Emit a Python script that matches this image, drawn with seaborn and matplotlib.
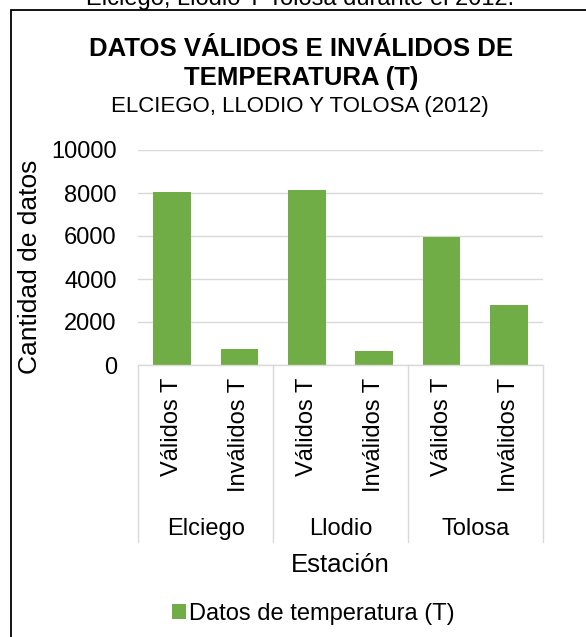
import pandas as pd
import matplotlib.pyplot as plt
import matplotlib.transforms as mtransforms
from matplotlib.patches import Patch, Rectangle
import seaborn as sns

# Datos
estaciones = ['Elciego', 'Llodio', 'Tolosa']
tipos = ['Válidos T', 'Inválidos T']
validos = [8030, 8120, 5950]
invalidos = [730, 640, 2780]

rows = []
for est, v, inv in zip(estaciones, validos, invalidos):
    rows.append({'clave': est + ' ' + tipos[0], 'tipo': tipos[0], 'cantidad': v})
    rows.append({'clave': est + ' ' + tipos[1], 'tipo': tipos[1], 'cantidad': inv})
df = pd.DataFrame(rows)

sns.set_theme(style='white')
plt.rcParams['font.family'] = ['Liberation Sans', 'DejaVu Sans']
plt.rcParams['text.color'] = 'black'
plt.rcParams['axes.labelcolor'] = 'black'
plt.rcParams['xtick.color'] = 'black'
plt.rcParams['ytick.color'] = 'black'

verde = '#70AD47'
gris = '#d9d9d9'
W, H = 586, 637

fig = plt.figure(figsize=(W / 100, H / 100), dpi=100)
ax = fig.add_axes([138.3 / W, 1 - 365 / H, 404.4 / W, 215 / H])

sns.barplot(data=df, x='clave', y='cantidad', color=verde, width=0.56,
            linewidth=0, saturation=1, ax=ax)

ax.set_ylim(0, 10000)
ax.set_xlim(-0.5, len(df) - 0.5)
ax.set_yticks(range(0, 10001, 2000))
ax.yaxis.grid(True, color=gris, lw=1)
ax.set_axisbelow(True)
for s in ['left', 'top', 'right']:
    ax.spines[s].set_visible(False)
ax.spines['bottom'].set_color(gris)
ax.spines['bottom'].set_linewidth(1)

ax.set_xticks(range(len(df)))
ax.set_xticklabels(df['tipo'], rotation=90, fontsize=17)
ax.tick_params(axis='x', length=0, pad=9)
ax.tick_params(axis='y', length=0, pad=15.5, labelsize=17)

# Eje de categorias de dos niveles
trans = mtransforms.blended_transform_factory(ax.transData, ax.transAxes)
for xs in [-0.5, 1.5, 3.5, 5.5]:
    ax.plot([xs, xs], [0, -0.822], color=gris, lw=1, transform=trans, clip_on=False)
for i, est in enumerate(estaciones):
    ax.text(2 * i + 0.5, -0.791, est, transform=trans, ha='center',
            va='baseline', fontsize=17)

ax.set_xlabel('Estación', fontsize=18.5, va='baseline')
ax.xaxis.set_label_coords(0.5, -0.963)
ax.set_ylabel('Cantidad de datos', fontsize=19, va='center')
ax.yaxis.set_label_coords((30 - 138.3) / 404.4, (365 - 266.5) / 215)

# Titulos
fig.text(300 / W, 1 - 5 / H, 'Elciego, Llodio Y Tolosa durante el 2012.',
         ha='center', va='baseline', fontsize=17)
fig.text(301 / W, 1 - 55.7 / H, 'DATOS VÁLIDOS E INVÁLIDOS DE', ha='center',
         va='baseline', fontsize=18.5, fontweight='bold')
fig.text(301 / W, 1 - 85 / H, 'TEMPERATURA (T)', ha='center',
         va='baseline', fontsize=18.5, fontweight='bold')
fig.text(300 / W, 1 - 112 / H, 'ELCIEGO, LLODIO Y TOLOSA (2012)', ha='center',
         va='baseline', fontsize=16)

# Leyenda
fig.legend(handles=[Patch(facecolor=verde, edgecolor='none')],
           labels=['Datos de temperatura (T)'], loc='center left',
           bbox_to_anchor=(172 / W, 1 - 614 / H), frameon=False, fontsize=17,
           handlelength=0.59, handleheight=0.59, handletextpad=0.13,
           borderpad=0, borderaxespad=0)

# Marco del area del grafico
fig.patches.append(Rectangle((11 / W, -0.1), 1.2, 1.1 - 10 / H, transform=fig.transFigure,
                             fill=False, edgecolor='black', lw=1.3))

fig.savefig('out.png', dpi=100)
